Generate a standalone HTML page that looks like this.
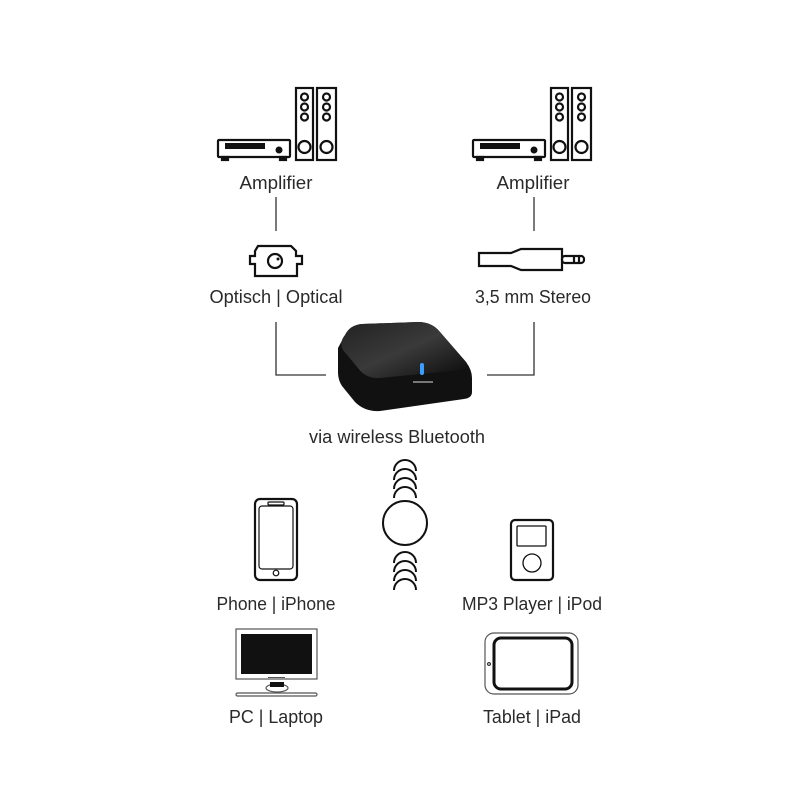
<!DOCTYPE html>
<html><head><meta charset="utf-8"><style>
html,body{margin:0;padding:0;background:#fff;}
svg{display:block}
text{font-family:"Liberation Sans",sans-serif;font-size:18px;fill:#2a2a2a;}
</style></head><body>
<svg width="800" height="800" viewBox="0 0 800 800" xmlns="http://www.w3.org/2000/svg">
<defs>
<g id="amp" fill="none" stroke="#111" stroke-width="2.2">
  <rect x="218" y="140" width="72" height="17" rx="1"/>
  <rect x="222" y="157" width="6" height="3" fill="#111"/>
  <rect x="280" y="157" width="6" height="3" fill="#111"/>
  <rect x="225" y="143" width="40" height="6" fill="#111" stroke="none"/>
  <circle cx="279" cy="150" r="3.5" fill="#111" stroke="none"/>
  <rect x="296" y="88" width="17" height="72"/>
  <rect x="317" y="88" width="19" height="72"/>
  <circle cx="304.5" cy="97" r="3.5"/><circle cx="304.5" cy="107" r="3.5"/><circle cx="304.5" cy="117" r="3.5"/>
  <circle cx="326.5" cy="97" r="3.5"/><circle cx="326.5" cy="107" r="3.5"/><circle cx="326.5" cy="117" r="3.5"/>
  <circle cx="304.5" cy="147" r="6"/><circle cx="326.5" cy="147" r="6"/>
</g>
</defs>
<use href="#amp"/>
<use href="#amp" transform="translate(255,0)"/>

<text x="276" y="189" text-anchor="middle" textLength="73" lengthAdjust="spacingAndGlyphs">Amplifier</text>
<text x="533" y="189" text-anchor="middle" textLength="73" lengthAdjust="spacingAndGlyphs">Amplifier</text>

<g stroke="#333" stroke-width="1.3" fill="none">
  <line x1="276" y1="197" x2="276" y2="231"/>
  <line x1="534" y1="197" x2="534" y2="231"/>
  <polyline points="276,322 276,375 326,375"/>
  <polyline points="534,322 534,375 487,375"/>
</g>

<!-- optical -->
<g fill="none" stroke="#111" stroke-width="2.2">
  <path d="M258,246 H291 L296,251 V256 H302 V264 H297 V276 H255 V264 H250 V256 H255 V251 Z"/>
  <circle cx="275" cy="261" r="7"/>
</g>
<circle cx="278" cy="259" r="1.5" fill="#111"/>
<!-- jack -->
<g fill="none" stroke="#111" stroke-width="2.2">
  <path d="M479,253 H511 L521,249 H562 V270 H521 L511,266 H479 Z"/>
  <rect x="562" y="256" width="22" height="7" rx="3"/>
  <line x1="574" y1="256" x2="574" y2="263"/>
  <line x1="579" y1="256" x2="579" y2="263"/>
</g>

<text x="276" y="303" text-anchor="middle" textLength="133" lengthAdjust="spacingAndGlyphs">Optisch | Optical</text>
<text x="533" y="303" text-anchor="middle" textLength="116" lengthAdjust="spacingAndGlyphs">3,5 mm Stereo</text>

<!-- device -->
<defs><linearGradient id="dg" x1="0" y1="0" x2="1" y2="1">
<stop offset="0" stop-color="#222"/><stop offset="0.5" stop-color="#3a3a3a"/><stop offset="1" stop-color="#0a0a0a"/></linearGradient></defs>
<path d="M345,335 Q350,325 362,324 L418,322 Q432,322 440,332 L466,362 Q472,370 472,378 V392 Q472,398 464,399 L380,411 Q365,412 355,402 L342,386 Q338,380 338,372 V348 Z" fill="#111"/>
<path d="M345,335 Q350,325 362,324 L418,322 Q432,322 440,332 L466,362 Q470,368 462,370 L380,378 Q366,379 358,368 L343,350 Q339,342 345,335 Z" fill="url(#dg)"/>
<rect x="420" y="363" width="4" height="12" rx="2" fill="#3aa0ff"/>
<rect x="413" y="381" width="20" height="2" fill="#777"/>

<text x="397" y="443" text-anchor="middle" textLength="176" lengthAdjust="spacingAndGlyphs">via wireless Bluetooth</text>

<!-- bluetooth arcs -->
<g fill="none" stroke="#111" stroke-width="2">
  <path d="M394,471 A11,11 0 0 1 416,471"/>
  <path d="M394,480 A11,11 0 0 1 416,480"/>
  <path d="M394,489 A11,11 0 0 1 416,489"/>
  <path d="M394,498 A11,11 0 0 1 416,498"/>
  <circle cx="405" cy="523" r="22"/>
  <path d="M394,563 A11,11 0 0 1 416,563"/>
  <path d="M394,572 A11,11 0 0 1 416,572"/>
  <path d="M394,581 A11,11 0 0 1 416,581"/>
  <path d="M394,590 A11,11 0 0 1 416,590"/>
</g>

<!-- phone -->
<g fill="none" stroke="#111">
  <rect x="255" y="499" width="42" height="81" rx="5" stroke-width="2.2"/>
  <rect x="259" y="506" width="34" height="63" rx="3" stroke-width="1.2"/>
  <rect x="268" y="502" width="16" height="3" rx="1" stroke-width="1.2"/>
  <circle cx="276" cy="573" r="2.8" stroke-width="1.2"/>
</g>
<text x="276" y="610" text-anchor="middle" textLength="119" lengthAdjust="spacingAndGlyphs">Phone | iPhone</text>

<!-- mp3 -->
<g fill="none" stroke="#111">
  <rect x="511" y="520" width="42" height="60" rx="4" stroke-width="2.2"/>
  <rect x="517" y="526" width="29" height="20" rx="1" stroke-width="1.3"/>
  <circle cx="532" cy="563" r="9" stroke-width="1.3"/>
</g>
<text x="532" y="610" text-anchor="middle" textLength="140" lengthAdjust="spacingAndGlyphs">MP3 Player | iPod</text>

<!-- pc -->
<g fill="none" stroke="#555" stroke-width="1.2">
  <rect x="236" y="629" width="81" height="50"/>
  <ellipse cx="277" cy="688" rx="11" ry="4"/>
  <rect x="236" y="693" width="81" height="3" rx="1.5"/>
</g>
<rect x="241" y="634" width="71" height="40" fill="#111"/>
<rect x="270" y="682" width="14" height="5" fill="#111"/>
<rect x="268" y="677" width="17" height="1" fill="#555"/>
<text x="276" y="723" text-anchor="middle" textLength="94" lengthAdjust="spacingAndGlyphs">PC | Laptop</text>

<!-- tablet -->
<rect x="485" y="633" width="93" height="61" rx="9" fill="none" stroke="#555" stroke-width="1.2"/>
<rect x="494" y="638" width="78" height="51" rx="7" fill="none" stroke="#111" stroke-width="3"/>
<circle cx="489" cy="664" r="1.4" fill="none" stroke="#111"/>
<text x="532" y="723" text-anchor="middle" textLength="98" lengthAdjust="spacingAndGlyphs">Tablet | iPad</text>
</svg>
</body></html>
